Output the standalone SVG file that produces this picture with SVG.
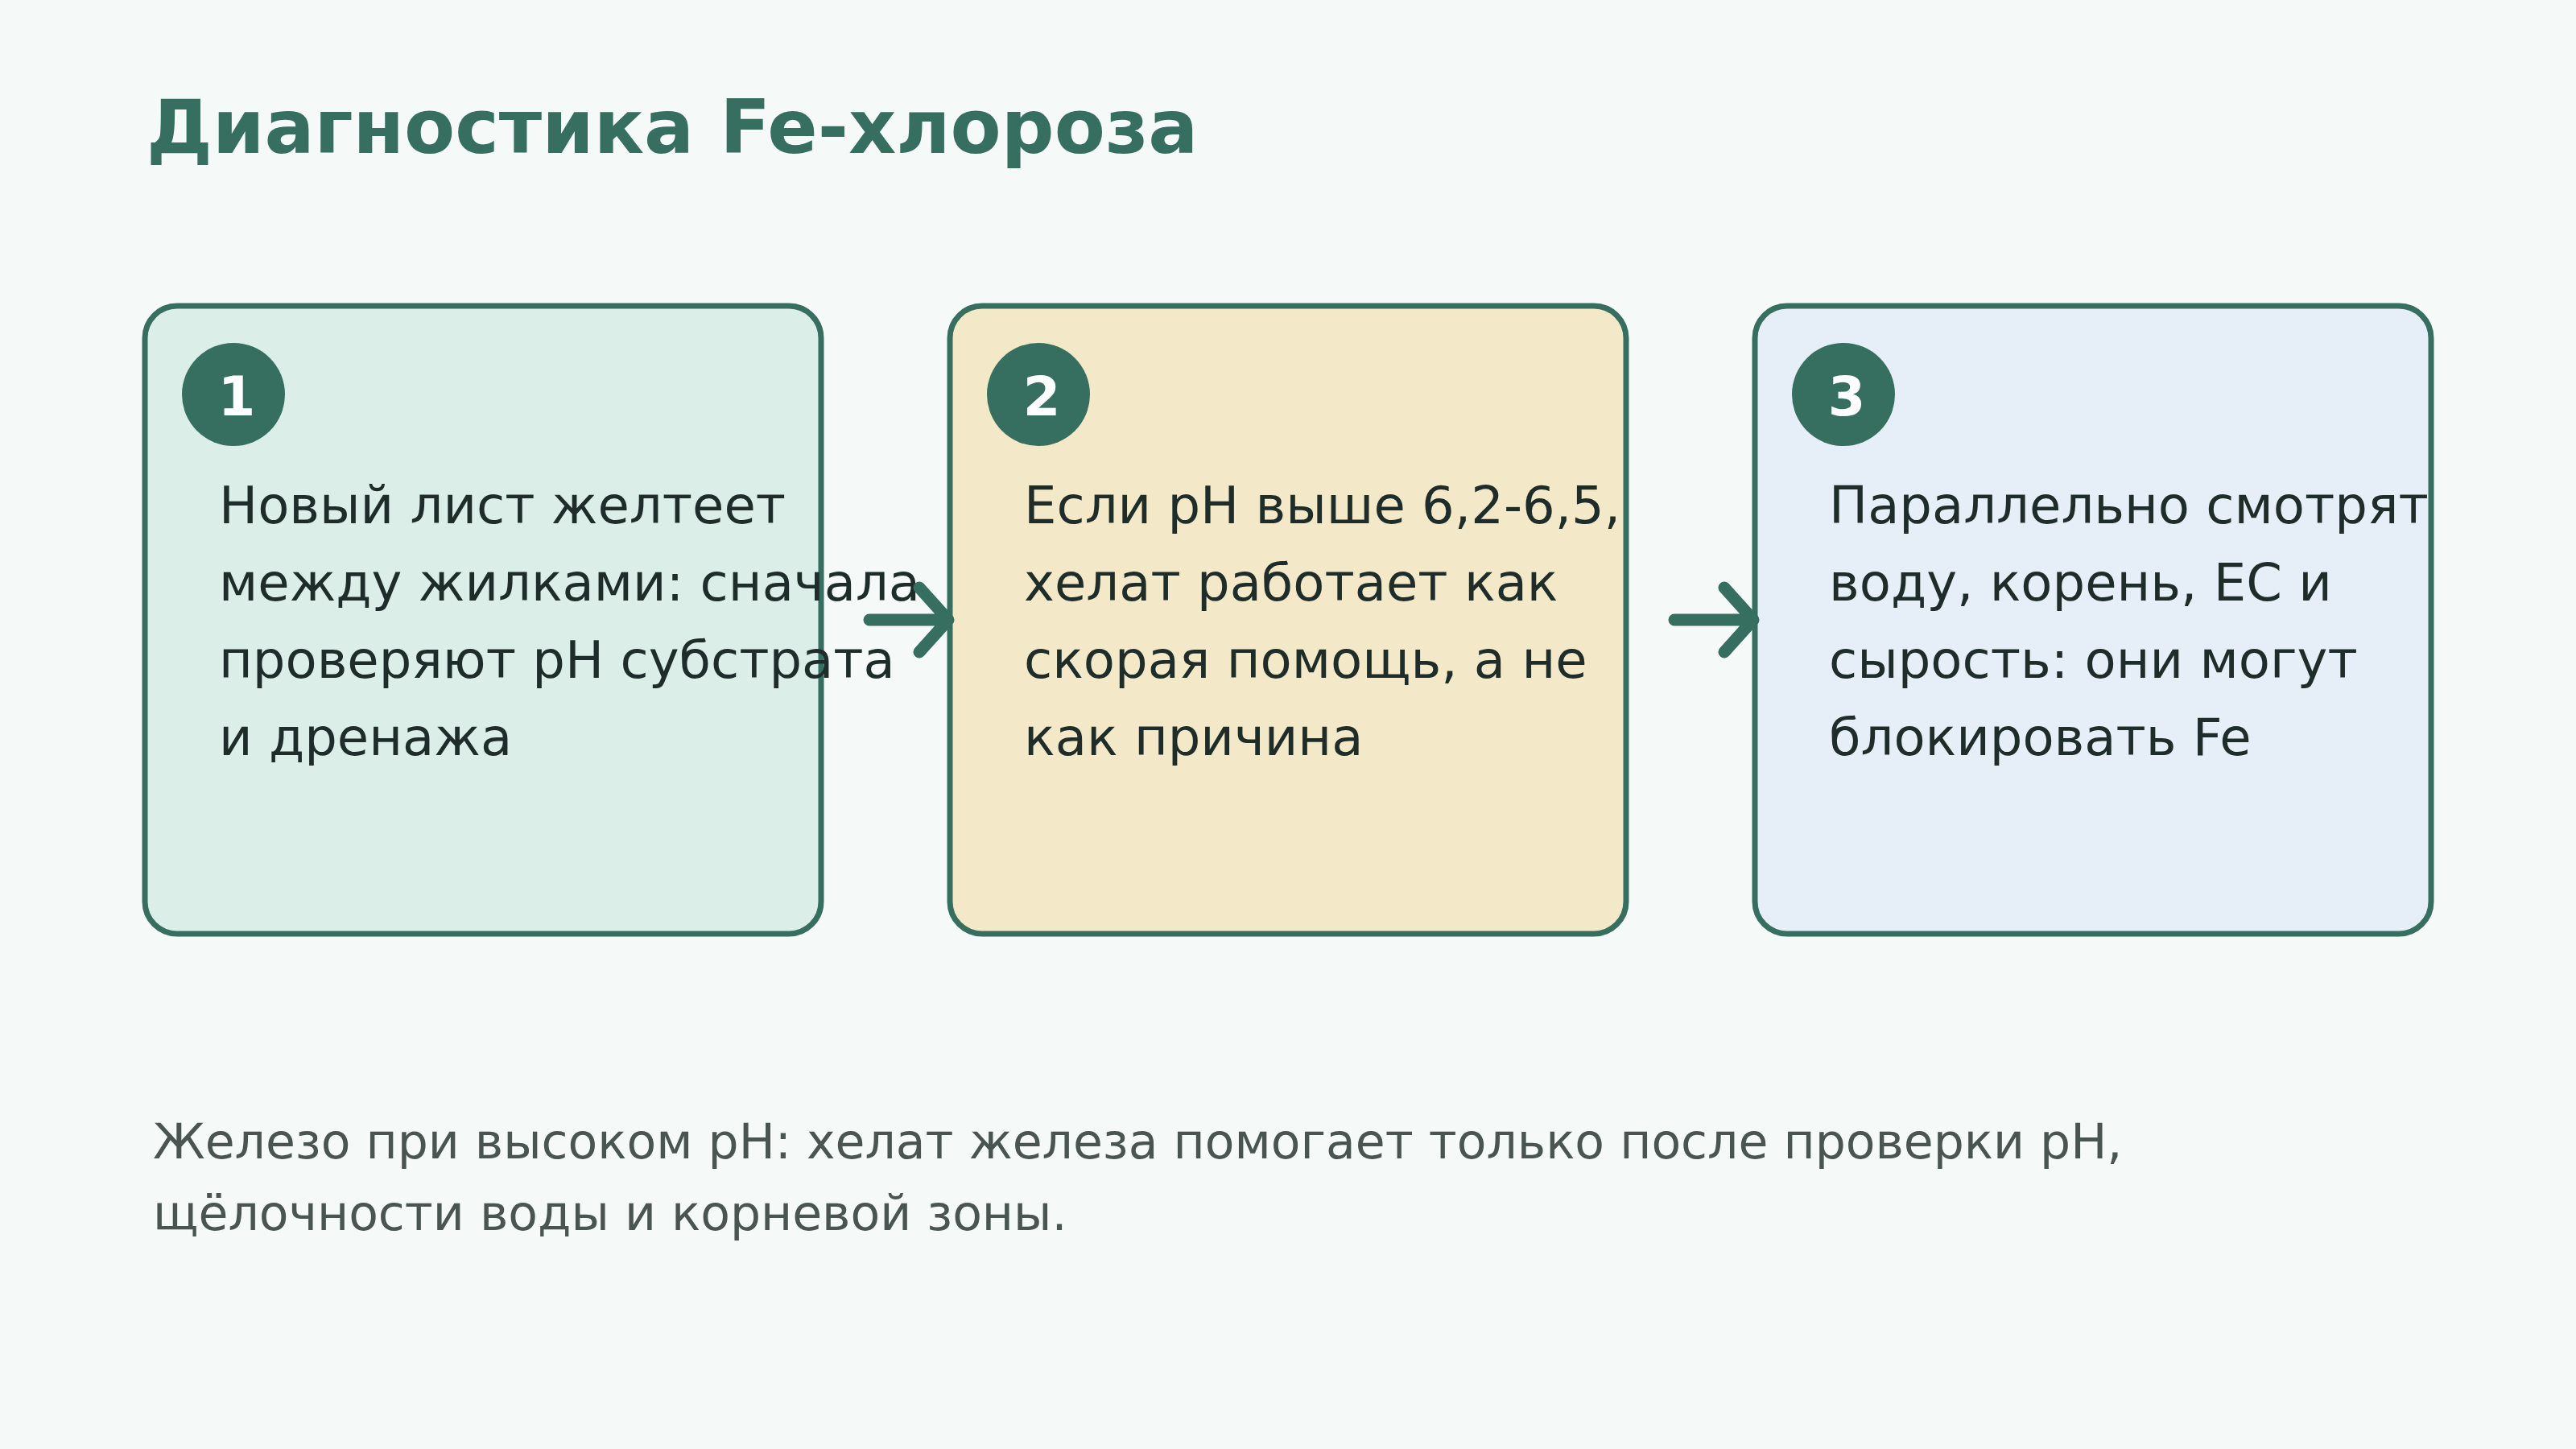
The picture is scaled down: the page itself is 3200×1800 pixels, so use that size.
<svg xmlns="http://www.w3.org/2000/svg" width="3200" height="1800" viewBox="0 0 3200 1800">
<style>
.bg{fill:#f5f9f8}
.box{stroke:#366f5f;stroke-width:7}
.num{fill:#366f5f}
.numt{font-family:"DejaVu Sans",sans-serif;font-weight:bold;font-size:67px;fill:#ffffff;text-anchor:middle}
.body{font-family:"DejaVu Sans",sans-serif;font-size:64px;fill:#1f2d2a}
.title{font-family:"DejaVu Sans",sans-serif;font-weight:bold;font-size:92px;fill:#366f5f}
.foot{font-family:"DejaVu Sans",sans-serif;font-size:60px;fill:#4a5552}
.conn{fill:none;stroke:#366f5f;stroke-width:15;stroke-linecap:round;stroke-linejoin:round}
</style>
<rect class="bg" x="0" y="0" width="3200" height="1800"/>
<text class="title" x="182" y="190">Диагностика Fe-хлороза</text>
<g id="node1">
<rect class="box" x="180" y="380" width="840" height="780" rx="40" fill="#dceee8"/>
<circle class="num" cx="290" cy="490" r="64"/>
<text class="numt" x="294" y="516">1</text>
<text class="body"><tspan x="272" y="650">Новый лист желтеет</tspan><tspan x="272" y="746">между жилками: сначала</tspan><tspan x="272" y="842">проверяют pH субстрата</tspan><tspan x="272" y="938">и дренажа</tspan></text>
</g>
<g id="node2">
<rect class="box" x="1180" y="380" width="840" height="780" rx="40" fill="#f3e8c8"/>
<circle class="num" cx="1290" cy="490" r="64"/>
<text class="numt" x="1294" y="516">2</text>
<text class="body"><tspan x="1272" y="650">Если pH выше 6,2-6,5,</tspan><tspan x="1272" y="746">хелат работает как</tspan><tspan x="1272" y="842">скорая помощь, а не</tspan><tspan x="1272" y="938">как причина</tspan></text>
</g>
<g id="node3">
<rect class="box" x="2180" y="380" width="840" height="780" rx="40" fill="#e6eef7"/>
<circle class="num" cx="2290" cy="490" r="64"/>
<text class="numt" x="2294" y="516">3</text>
<text class="body"><tspan x="2272" y="650">Параллельно смотрят</tspan><tspan x="2272" y="746">воду, корень, EC и</tspan><tspan x="2272" y="842">сырость: они могут</tspan><tspan x="2272" y="938">блокировать Fe</tspan></text>
</g>
<g id="connectors">
<path class="conn" d="M1080 770 L1176 770 M1142 730 L1178 770 L1142 810"/>
<path class="conn" d="M2080 770 L2176 770 M2142 730 L2178 770 L2142 810"/>
</g>
<text class="foot"><tspan x="190" y="1439">Железо при высоком pH: хелат железа помогает только после проверки pH,</tspan><tspan x="190" y="1528">щёлочности воды и корневой зоны.</tspan></text>
</svg>
